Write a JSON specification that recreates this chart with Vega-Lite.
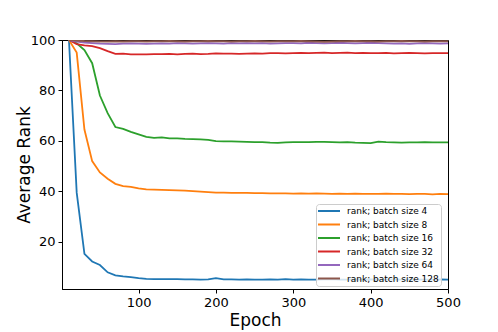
{
  "$schema": "https://vega.github.io/schema/vega-lite/v6.json",
  "autosize": "none",
  "width": 386,
  "height": 249,
  "padding": {"left": 62, "top": 40, "right": 50, "bottom": 43},
  "background": "white",
  "data": {"values": [
{"e":10,"b":4,"r":100},{"e":20,"b":4,"r":39.5},{"e":30,"b":4,"r":15.2},{"e":40,"b":4,"r":12.2},{"e":50,"b":4,"r":10.8},{"e":60,"b":4,"r":7.9},{"e":70,"b":4,"r":6.7},{"e":80,"b":4,"r":6.3},{"e":90,"b":4,"r":6.0},{"e":100,"b":4,"r":5.6},{"e":110,"b":4,"r":5.3},{"e":120,"b":4,"r":5.2},{"e":130,"b":4,"r":5.2},{"e":140,"b":4,"r":5.2},{"e":150,"b":4,"r":5.2},{"e":160,"b":4,"r":5.1},{"e":170,"b":4,"r":5.1},{"e":180,"b":4,"r":5.0},{"e":190,"b":4,"r":5.1},{"e":200,"b":4,"r":5.6},{"e":210,"b":4,"r":5.1},{"e":220,"b":4,"r":5.1},{"e":230,"b":4,"r":5.0},{"e":240,"b":4,"r":5.1},{"e":250,"b":4,"r":5.0},{"e":260,"b":4,"r":5.0},{"e":270,"b":4,"r":5.1},{"e":280,"b":4,"r":5.0},{"e":290,"b":4,"r":5.2},{"e":300,"b":4,"r":5.0},{"e":310,"b":4,"r":5.1},{"e":320,"b":4,"r":5.0},{"e":330,"b":4,"r":5.0},{"e":340,"b":4,"r":5.1},{"e":350,"b":4,"r":5.2},{"e":360,"b":4,"r":5.0},{"e":370,"b":4,"r":5.0},{"e":380,"b":4,"r":5.1},{"e":390,"b":4,"r":5.0},{"e":400,"b":4,"r":5.1},{"e":410,"b":4,"r":5.0},{"e":420,"b":4,"r":5.0},{"e":430,"b":4,"r":5.1},{"e":440,"b":4,"r":5.0},{"e":450,"b":4,"r":5.1},{"e":460,"b":4,"r":5.0},{"e":470,"b":4,"r":5.0},{"e":480,"b":4,"r":5.0},{"e":490,"b":4,"r":5.1},{"e":500,"b":4,"r":5.0},
{"e":10,"b":8,"r":100},{"e":20,"b":8,"r":95},{"e":30,"b":8,"r":64.5},{"e":40,"b":8,"r":52},{"e":50,"b":8,"r":47.5},{"e":60,"b":8,"r":45},{"e":70,"b":8,"r":43},{"e":80,"b":8,"r":42.1},{"e":90,"b":8,"r":41.8},{"e":100,"b":8,"r":41.2},{"e":110,"b":8,"r":40.8},{"e":120,"b":8,"r":40.7},{"e":130,"b":8,"r":40.6},{"e":140,"b":8,"r":40.5},{"e":150,"b":8,"r":40.4},{"e":160,"b":8,"r":40.3},{"e":170,"b":8,"r":40.1},{"e":180,"b":8,"r":39.9},{"e":190,"b":8,"r":39.7},{"e":200,"b":8,"r":39.5},{"e":210,"b":8,"r":39.5},{"e":220,"b":8,"r":39.4},{"e":230,"b":8,"r":39.4},{"e":240,"b":8,"r":39.4},{"e":250,"b":8,"r":39.3},{"e":260,"b":8,"r":39.3},{"e":270,"b":8,"r":39.2},{"e":280,"b":8,"r":39.2},{"e":290,"b":8,"r":39.2},{"e":300,"b":8,"r":39.1},{"e":310,"b":8,"r":39.2},{"e":320,"b":8,"r":39.1},{"e":330,"b":8,"r":39.2},{"e":340,"b":8,"r":39.1},{"e":350,"b":8,"r":39.0},{"e":360,"b":8,"r":39.1},{"e":370,"b":8,"r":39.0},{"e":380,"b":8,"r":39.1},{"e":390,"b":8,"r":39.0},{"e":400,"b":8,"r":39.0},{"e":410,"b":8,"r":39.0},{"e":420,"b":8,"r":39.1},{"e":430,"b":8,"r":39.0},{"e":440,"b":8,"r":39.0},{"e":450,"b":8,"r":38.9},{"e":460,"b":8,"r":39.0},{"e":470,"b":8,"r":39.0},{"e":480,"b":8,"r":38.8},{"e":490,"b":8,"r":39.0},{"e":500,"b":8,"r":38.9},
{"e":10,"b":16,"r":100},{"e":20,"b":16,"r":98.7},{"e":30,"b":16,"r":96},{"e":40,"b":16,"r":90.8},{"e":50,"b":16,"r":78},{"e":60,"b":16,"r":71},{"e":70,"b":16,"r":65.5},{"e":80,"b":16,"r":64.8},{"e":90,"b":16,"r":63.6},{"e":100,"b":16,"r":62.6},{"e":110,"b":16,"r":61.6},{"e":120,"b":16,"r":61.2},{"e":130,"b":16,"r":61.4},{"e":140,"b":16,"r":61.0},{"e":150,"b":16,"r":61.0},{"e":160,"b":16,"r":60.8},{"e":170,"b":16,"r":60.7},{"e":180,"b":16,"r":60.6},{"e":190,"b":16,"r":60.4},{"e":200,"b":16,"r":59.9},{"e":210,"b":16,"r":59.8},{"e":220,"b":16,"r":59.8},{"e":230,"b":16,"r":59.7},{"e":240,"b":16,"r":59.6},{"e":250,"b":16,"r":59.5},{"e":260,"b":16,"r":59.5},{"e":270,"b":16,"r":59.3},{"e":280,"b":16,"r":59.2},{"e":290,"b":16,"r":59.4},{"e":300,"b":16,"r":59.5},{"e":310,"b":16,"r":59.5},{"e":320,"b":16,"r":59.5},{"e":330,"b":16,"r":59.6},{"e":340,"b":16,"r":59.6},{"e":350,"b":16,"r":59.5},{"e":360,"b":16,"r":59.4},{"e":370,"b":16,"r":59.5},{"e":380,"b":16,"r":59.3},{"e":390,"b":16,"r":59.2},{"e":400,"b":16,"r":59.1},{"e":410,"b":16,"r":59.7},{"e":420,"b":16,"r":59.5},{"e":430,"b":16,"r":59.4},{"e":440,"b":16,"r":59.3},{"e":450,"b":16,"r":59.4},{"e":460,"b":16,"r":59.4},{"e":470,"b":16,"r":59.5},{"e":480,"b":16,"r":59.4},{"e":490,"b":16,"r":59.4},{"e":500,"b":16,"r":59.4},
{"e":10,"b":32,"r":100},{"e":20,"b":32,"r":98.4},{"e":30,"b":32,"r":97.9},{"e":40,"b":32,"r":97.6},{"e":50,"b":32,"r":96.8},{"e":60,"b":32,"r":95.6},{"e":70,"b":32,"r":94.5},{"e":80,"b":32,"r":94.6},{"e":90,"b":32,"r":94.3},{"e":100,"b":32,"r":94.3},{"e":110,"b":32,"r":94.3},{"e":120,"b":32,"r":94.4},{"e":130,"b":32,"r":94.4},{"e":140,"b":32,"r":94.5},{"e":150,"b":32,"r":94.3},{"e":160,"b":32,"r":94.5},{"e":170,"b":32,"r":94.6},{"e":180,"b":32,"r":94.4},{"e":190,"b":32,"r":94.5},{"e":200,"b":32,"r":94.7},{"e":210,"b":32,"r":94.6},{"e":220,"b":32,"r":94.6},{"e":230,"b":32,"r":94.5},{"e":240,"b":32,"r":94.6},{"e":250,"b":32,"r":94.7},{"e":260,"b":32,"r":94.6},{"e":270,"b":32,"r":94.8},{"e":280,"b":32,"r":94.8},{"e":290,"b":32,"r":94.7},{"e":300,"b":32,"r":94.8},{"e":310,"b":32,"r":94.9},{"e":320,"b":32,"r":94.8},{"e":330,"b":32,"r":94.9},{"e":340,"b":32,"r":95.0},{"e":350,"b":32,"r":94.8},{"e":360,"b":32,"r":94.9},{"e":370,"b":32,"r":95.0},{"e":380,"b":32,"r":94.8},{"e":390,"b":32,"r":94.9},{"e":400,"b":32,"r":94.8},{"e":410,"b":32,"r":94.8},{"e":420,"b":32,"r":94.9},{"e":430,"b":32,"r":94.7},{"e":440,"b":32,"r":94.8},{"e":450,"b":32,"r":94.9},{"e":460,"b":32,"r":94.8},{"e":470,"b":32,"r":94.7},{"e":480,"b":32,"r":94.8},{"e":490,"b":32,"r":94.8},{"e":500,"b":32,"r":94.8},
{"e":10,"b":64,"r":100},{"e":20,"b":64,"r":99.4},{"e":30,"b":64,"r":99.0},{"e":40,"b":64,"r":98.8},{"e":50,"b":64,"r":98.6},{"e":60,"b":64,"r":98.5},{"e":70,"b":64,"r":98.4},{"e":80,"b":64,"r":98.6},{"e":90,"b":64,"r":98.7},{"e":100,"b":64,"r":98.6},{"e":110,"b":64,"r":98.5},{"e":120,"b":64,"r":98.6},{"e":130,"b":64,"r":98.7},{"e":140,"b":64,"r":98.6},{"e":150,"b":64,"r":98.8},{"e":160,"b":64,"r":98.7},{"e":170,"b":64,"r":98.6},{"e":180,"b":64,"r":98.7},{"e":190,"b":64,"r":98.8},{"e":200,"b":64,"r":98.7},{"e":210,"b":64,"r":98.6},{"e":220,"b":64,"r":98.8},{"e":230,"b":64,"r":98.7},{"e":240,"b":64,"r":98.8},{"e":250,"b":64,"r":98.7},{"e":260,"b":64,"r":98.8},{"e":270,"b":64,"r":98.6},{"e":280,"b":64,"r":98.7},{"e":290,"b":64,"r":98.8},{"e":300,"b":64,"r":98.8},{"e":310,"b":64,"r":98.7},{"e":320,"b":64,"r":98.9},{"e":330,"b":64,"r":98.8},{"e":340,"b":64,"r":98.7},{"e":350,"b":64,"r":98.8},{"e":360,"b":64,"r":98.9},{"e":370,"b":64,"r":98.8},{"e":380,"b":64,"r":98.7},{"e":390,"b":64,"r":98.8},{"e":400,"b":64,"r":98.9},{"e":410,"b":64,"r":98.8},{"e":420,"b":64,"r":98.7},{"e":430,"b":64,"r":98.6},{"e":440,"b":64,"r":98.7},{"e":450,"b":64,"r":98.5},{"e":460,"b":64,"r":98.7},{"e":470,"b":64,"r":98.8},{"e":480,"b":64,"r":98.7},{"e":490,"b":64,"r":98.6},{"e":500,"b":64,"r":98.7},
{"e":10,"b":128,"r":100},{"e":20,"b":128,"r":99.8},{"e":30,"b":128,"r":99.6},{"e":40,"b":128,"r":99.5},{"e":50,"b":128,"r":99.4},{"e":60,"b":128,"r":99.4},{"e":70,"b":128,"r":99.5},{"e":80,"b":128,"r":99.4},{"e":90,"b":128,"r":99.5},{"e":100,"b":128,"r":99.5},{"e":110,"b":128,"r":99.4},{"e":120,"b":128,"r":99.5},{"e":130,"b":128,"r":99.5},{"e":140,"b":128,"r":99.6},{"e":150,"b":128,"r":99.5},{"e":160,"b":128,"r":99.4},{"e":170,"b":128,"r":99.5},{"e":180,"b":128,"r":99.5},{"e":190,"b":128,"r":99.6},{"e":200,"b":128,"r":99.5},{"e":210,"b":128,"r":99.5},{"e":220,"b":128,"r":99.4},{"e":230,"b":128,"r":99.5},{"e":240,"b":128,"r":99.5},{"e":250,"b":128,"r":99.6},{"e":260,"b":128,"r":99.5},{"e":270,"b":128,"r":99.4},{"e":280,"b":128,"r":99.5},{"e":290,"b":128,"r":99.5},{"e":300,"b":128,"r":99.5},{"e":310,"b":128,"r":99.6},{"e":320,"b":128,"r":99.5},{"e":330,"b":128,"r":99.4},{"e":340,"b":128,"r":99.3},{"e":350,"b":128,"r":99.4},{"e":360,"b":128,"r":99.5},{"e":370,"b":128,"r":99.5},{"e":380,"b":128,"r":99.6},{"e":390,"b":128,"r":99.5},{"e":400,"b":128,"r":99.5},{"e":410,"b":128,"r":99.4},{"e":420,"b":128,"r":99.5},{"e":430,"b":128,"r":99.5},{"e":440,"b":128,"r":99.6},{"e":450,"b":128,"r":99.5},{"e":460,"b":128,"r":99.5},{"e":470,"b":128,"r":99.4},{"e":480,"b":128,"r":99.5},{"e":490,"b":128,"r":99.5},{"e":500,"b":128,"r":99.5}
  ]},
  "mark": {"type": "line", "strokeWidth": 1.8, "clip": true},
  "encoding": {
    "x": {"field": "e", "type": "quantitative",
      "scale": {"domain": [1, 500], "nice": false, "zero": false},
      "axis": {"values": [100, 200, 300, 400, 500], "title": "Epoch", "titleFontSize": 17, "titleFontWeight": "normal", "titlePadding": 3, "labelFontSize": 13, "labelPadding": 3, "tickSize": 4, "labelFlush": false, "grid": false}},
    "y": {"field": "r", "type": "quantitative",
      "scale": {"domain": [1.3, 100], "nice": false, "zero": false},
      "axis": {"values": [20, 40, 60, 80, 100], "title": "Average Rank", "titleFontSize": 17, "titleFontWeight": "normal", "titlePadding": -3, "labelFontSize": 13, "labelPadding": 3, "tickSize": 4, "labelFlush": false, "grid": false}},
    "color": {"field": "b", "type": "nominal",
      "scale": {"domain": [4, 8, 16, 32, 64, 128], "range": ["#1f77b4", "#ff7f0e", "#2ca02c", "#d62728", "#9467bd", "#8c564b"]},
      "legend": {"title": null, "orient": "none", "legendX": 254, "legendY": 164,
        "labelExpr": "'rank; batch size ' + datum.label",
        "symbolType": "M-2.75,0H2.75", "symbolSize": 64, "symbolStrokeWidth": 2, "symbolOffset": 6,
        "labelFontSize": 9, "labelOffset": 13, "rowPadding": 3.5, "padding": 2,
        "fillColor": "rgba(255,255,255,0.8)", "strokeColor": "#cccccc", "cornerRadius": 3}}
  },
  "config": {
    "font": "DejaVu Sans",
    "view": {"stroke": "black", "strokeWidth": 1},
    "axis": {"domainColor": "black", "tickColor": "black", "labelColor": "black", "titleColor": "black", "labelFont": "DejaVu Sans", "titleFont": "DejaVu Sans"},
    "legend": {"labelColor": "black", "labelFont": "DejaVu Sans"}
  }
}
